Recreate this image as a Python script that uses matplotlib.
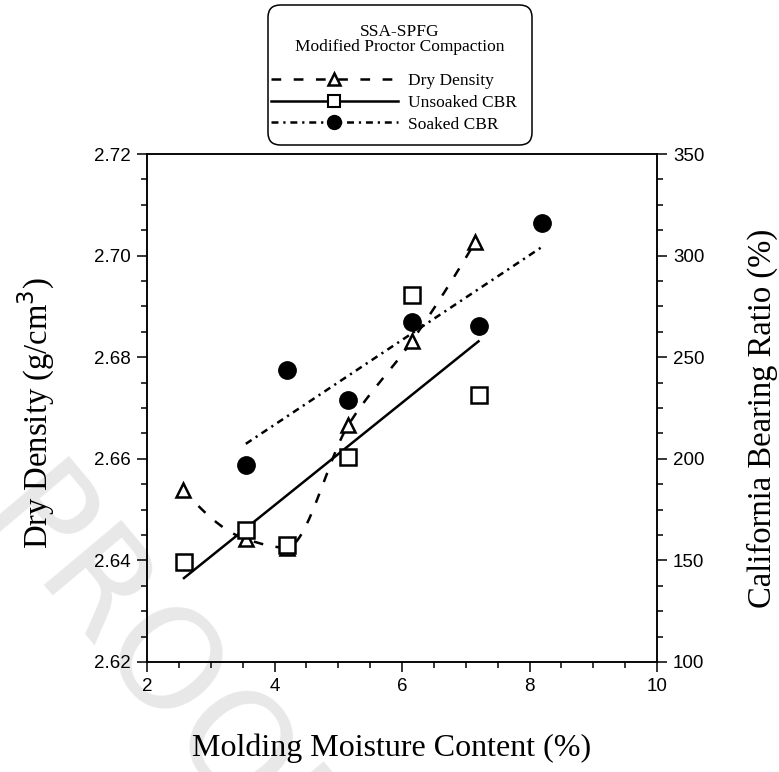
import numpy as np
import matplotlib
matplotlib.use("Agg")
import matplotlib.pyplot as plt
from matplotlib.lines import Line2D
from matplotlib.patches import FancyBboxPatch
from matplotlib.ticker import MultipleLocator, FormatStrFormatter

plt.rcParams["lines.scale_dashes"] = False

# Molding moisture content (%) for each series
dd_moisture = [2.57, 3.55, 4.19, 5.16, 6.15, 7.15]
dry_density = [2.6539, 2.6442, 2.6425, 2.6667, 2.6831, 2.7027]

uns_moisture = [2.58, 3.55, 4.19, 5.16, 6.15, 7.20]
unsoaked_cbr = [149.0, 165.0, 157.5, 201.0, 280.5, 231.5]

soak_moisture = [3.55, 4.20, 5.16, 6.15, 7.20, 8.19]
soaked_cbr = [197.0, 243.5, 229.0, 267.5, 265.5, 316.0]

x_ticks = [2, 4, 6, 8, 10]
left_ticks = [2.62, 2.64, 2.66, 2.68, 2.70, 2.72]
right_ticks = [100, 150, 200, 250, 300, 350]

legend_title = ["SSA-SPFG", "Modified Proctor Compaction"]
legend_labels = ["Dry Density", "Unsoaked CBR", "Soaked CBR"]


def pchip(x, y, xs):
    """Shape-preserving piecewise cubic Hermite curve through (x, y)."""
    x = np.asarray(x, float)
    y = np.asarray(y, float)
    h = np.diff(x)
    d = np.diff(y) / h
    n = len(x)
    m = np.zeros(n)
    for k in range(1, n - 1):
        if d[k - 1] * d[k] > 0:
            w1 = 2 * h[k] + h[k - 1]
            w2 = h[k] + 2 * h[k - 1]
            m[k] = (w1 + w2) / (w1 / d[k - 1] + w2 / d[k])
    def end(h0, h1, d0, d1):
        v = ((2 * h0 + h1) * d0 - h0 * d1) / (h0 + h1)
        if np.sign(v) != np.sign(d0):
            v = 0.0
        elif np.sign(d0) != np.sign(d1) and abs(v) > abs(3 * d0):
            v = 3 * d0
        return v
    m[0] = end(h[0], h[1], d[0], d[1])
    m[-1] = end(h[-1], h[-2], d[-1], d[-2])
    out = np.empty_like(xs)
    for i, xv in enumerate(xs):
        k = min(max(np.searchsorted(x, xv) - 1, 0), n - 2)
        t = (xv - x[k]) / h[k]
        h00 = 2 * t**3 - 3 * t**2 + 1
        h10 = t**3 - 2 * t**2 + t
        h01 = -2 * t**3 + 3 * t**2
        h11 = t**3 - t**2
        out[i] = h00 * y[k] + h10 * h[k] * m[k] + h01 * y[k + 1] + h11 * h[k] * m[k + 1]
    return out


serif = "Liberation Serif"
sans = "Liberation Sans"

W, H = 779, 772
fig = plt.figure(figsize=(W / 100, H / 100), dpi=100)
ax = fig.add_axes([0.1887, 0.1425, 0.6547, 0.658])
ax.set_facecolor("none")
ax2 = ax.twinx()

# light watermark behind everything
fig.text(0.205, 0.12, "PROOF", fontsize=100, family="DejaVu Sans", color="#e8e8e8",
         rotation=-50, ha="center", va="center", zorder=-10)

dash_dd = (0, (7, 9))
dash_soak = (0, (5, 3.5, 1.6, 3.5))

# Dry density: smooth curve through points
xs = np.linspace(dd_moisture[0], dd_moisture[-1], 300)
ax.plot(xs, pchip(dd_moisture, dry_density, xs), color="black", lw=1.8, linestyle=dash_dd)
ax.plot(dd_moisture, dry_density, linestyle="none", marker="^", ms=10, mfc="white",
        mec="black", mew=1.8)

# CBR: least-squares trend lines
cu = np.polyfit(uns_moisture, unsoaked_cbr, 1)
xu = np.array([uns_moisture[0], uns_moisture[-1]])
ax2.plot(xu, np.polyval(cu, xu), color="black", lw=1.8)
ax2.plot(uns_moisture, unsoaked_cbr, linestyle="none", marker="s", ms=12, mfc="white",
         mec="black", mew=1.8)

cs = np.polyfit(soak_moisture, soaked_cbr, 1)
xsk = np.array([soak_moisture[0], soak_moisture[-1]])
ax2.plot(xsk, np.polyval(cs, xsk), color="black", lw=1.8, linestyle=dash_soak)
ax2.plot(soak_moisture, soaked_cbr, linestyle="none", marker="o", ms=12.5, mfc="black",
         mec="black")

ax.set_xlim(2, 10)
ax.set_ylim(2.62, 2.72)
ax2.set_ylim(100, 350)

ax.set_xticks(x_ticks)
ax.xaxis.set_minor_locator(MultipleLocator(0.5))
ax.set_yticks(left_ticks)
ax.yaxis.set_major_formatter(FormatStrFormatter("%.2f"))
ax.yaxis.set_minor_locator(MultipleLocator(0.005))
ax2.set_yticks(right_ticks)
ax2.yaxis.set_minor_locator(MultipleLocator(12.5))

for a in (ax, ax2):
    for s in a.spines.values():
        s.set_linewidth(1.1)
    a.tick_params(which="major", direction="out", length=7.5, width=1.1, labelsize=13.5,
                  pad=4)
    a.tick_params(which="minor", direction="out", length=4, width=1.1)
    for lab in a.get_xticklabels() + a.get_yticklabels():
        lab.set_family(sans)
ax.tick_params(axis="x", which="both", top=False)

ax.set_xlabel("Molding Moisture Content (%)", family=serif, fontsize=23)
ax.set_ylabel("Dry Density (g/cm$^3$)", family=serif, fontsize=23.5)
ax2.set_ylabel("California Bearing Ratio (%)", family=serif, fontsize=23.5)
ax.xaxis.set_label_coords(0.48, -0.14)
ax.yaxis.set_label_coords(-0.176, 0.49)
ax2.yaxis.set_label_coords(1.175, 0.48)

# legend: rounded frame, two-line heading, then the three series keys
box = FancyBboxPatch((268 / W, 1 - 145 / H), 264 / W, 140 / H,
                     boxstyle="round,pad=0,rounding_size=0.016",
                     transform=fig.transFigure, facecolor="white", edgecolor="black",
                     linewidth=1.1, zorder=5)
fig.add_artist(box)
for i, line in enumerate(legend_title):
    fig.text(400 / W, 1 - (32 + 15 * i) / H, line, family=serif, fontsize=12.5,
             ha="center", va="center", zorder=6)

handles = [
    Line2D([], [], color="black", lw=1.8, linestyle=dash_dd, marker="^", ms=8,
           mfc="white", mec="black", mew=1.8),
    Line2D([], [], color="black", lw=1.8, marker="s", ms=9, mfc="white",
           mec="black", mew=1.5),
    Line2D([], [], color="black", lw=1.8, linestyle=dash_soak, marker="o", ms=10,
           mfc="black", mec="black"),
]
leg = fig.legend(handles, legend_labels, loc="upper left",
                 bbox_to_anchor=(271 / W, 1 - 73 / H), borderaxespad=0, borderpad=0,
                 numpoints=1, handlelength=7.3, handletextpad=0.6, labelspacing=0.32,
                 frameon=False, prop={"family": serif, "size": 12.5})
leg.set_zorder(6)

fig.savefig("out.png", dpi=100)
